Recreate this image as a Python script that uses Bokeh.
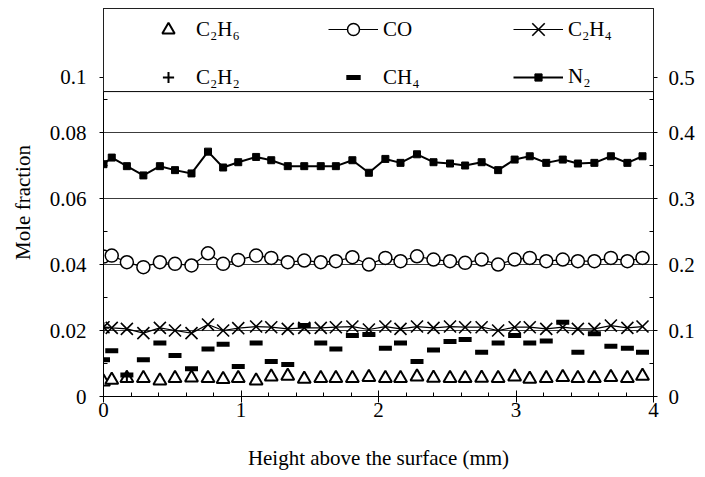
from bokeh.plotting import figure
from bokeh.models import (LinearAxis, Range1d, FixedTicker, Legend, LegendItem,
                          BoxAnnotation)
from bokeh.embed import file_html
from bokeh.resources import INLINE

# Sampling heights above the surface (mm)
height_mm = [0.00, 0.06, 0.17, 0.29, 0.41, 0.52, 0.64, 0.76, 0.87, 0.98,
             1.11, 1.22, 1.34, 1.46, 1.58, 1.69, 1.81, 1.93, 2.05, 2.16,
             2.28, 2.40, 2.52, 2.63, 2.75, 2.87, 2.99, 3.10, 3.22, 3.34,
             3.45, 3.57, 3.69, 3.81, 3.92]

# Mole fractions, left axis
c2h6 = [0.0045, 0.0050, 0.0055, 0.0055, 0.0048, 0.0055, 0.0057, 0.0055, 0.0052, 0.0055,
        0.0048, 0.0060, 0.0062, 0.0053, 0.0055, 0.0055, 0.0055, 0.0058, 0.0055, 0.0055,
        0.0060, 0.0056, 0.0055, 0.0055, 0.0056, 0.0055, 0.0060, 0.0053, 0.0055, 0.0058,
        0.0055, 0.0055, 0.0058, 0.0055, 0.0062]
co = [0.0424, 0.0427, 0.0407, 0.0392, 0.0407, 0.0402, 0.0397, 0.0434, 0.0402, 0.0414,
      0.0427, 0.0420, 0.0407, 0.0412, 0.0407, 0.0410, 0.0422, 0.0400, 0.0420, 0.0410,
      0.0425, 0.0415, 0.0410, 0.0405, 0.0415, 0.0400, 0.0415, 0.0420, 0.0410, 0.0415,
      0.0410, 0.0410, 0.0420, 0.0410, 0.0420]
c2h4 = [0.0210, 0.0208, 0.0205, 0.0192, 0.0208, 0.0200, 0.0192, 0.0218, 0.0200, 0.0207,
        0.0212, 0.0210, 0.0205, 0.0208, 0.0208, 0.0210, 0.0212, 0.0203, 0.0212, 0.0205,
        0.0212, 0.0208, 0.0212, 0.0210, 0.0210, 0.0200, 0.0210, 0.0210, 0.0205, 0.0210,
        0.0205, 0.0205, 0.0215, 0.0208, 0.0212]
ch4 = [0.0111, 0.0139, 0.0065, 0.0111, 0.0162, 0.0124, 0.0084, 0.0144, 0.0158, 0.0091,
       0.0162, 0.0106, 0.0097, 0.0215, 0.0162, 0.0144, 0.0185, 0.0188, 0.0146, 0.0162,
       0.0106, 0.0141, 0.0167, 0.0173, 0.0134, 0.0162, 0.0185, 0.0162, 0.0168, 0.0225,
       0.0134, 0.0190, 0.0152, 0.0146, 0.0134]
c2h2_height = [0.00, 0.17]
c2h2 = [0.0208, 0.0062]

# N2 mole fraction, right axis
n2 = [0.352, 0.362, 0.349, 0.335, 0.349, 0.343, 0.338, 0.371, 0.347, 0.355,
      0.363, 0.358, 0.349, 0.349, 0.349, 0.349, 0.358, 0.339, 0.360, 0.354,
      0.367, 0.355, 0.353, 0.350, 0.355, 0.343, 0.359, 0.364, 0.354, 0.359,
      0.353, 0.354, 0.364, 0.354, 0.364]

left_ticks = [0, 0.02, 0.04, 0.06, 0.08]
left_labels = ["0", "0.02", "0.04", "0.06", "0.08"]
right_ticks = [0, 0.1, 0.2, 0.3, 0.4]
right_labels = ["0", "0.1", "0.2", "0.3", "0.4"]
x_ticks = [0, 1, 2, 3, 4]

FONT = "Liberation Serif"
FS = "21px"

# The legend band squeezes the top of the scale; its top label sits inside it
TOP_LEFT, TOP_RIGHT = 0.0967, 0.4833
Y_MAX = 0.11758
LEGEND_FLOOR = 0.0924

p = figure(width=705, height=477, x_range=Range1d(0, 4), y_range=Range1d(0, Y_MAX),
           output_backend="svg", toolbar_location=None,
           min_border_left=103, min_border_right=52, min_border_top=8,
           min_border_bottom=81, background_fill_color="white",
           border_fill_color="white")
p.outline_line_color = "black"
p.outline_line_width = 1
p.outline_line_alpha = 1
p.extra_y_ranges = {"right": Range1d(0, Y_MAX * 5)}

# grid
p.xgrid.visible = False
p.ygrid.ticker = FixedTicker(ticks=left_ticks[1:])
p.ygrid.grid_line_color = "#3c3c3c"
p.ygrid.grid_line_width = 1


def style_axis(ax):
    ax.axis_line_color = "black"
    ax.major_tick_line_color = "black"
    ax.minor_tick_line_color = "black"
    ax.major_label_text_font = FONT
    ax.major_label_text_font_size = FS
    ax.major_label_text_color = "black"
    ax.axis_label_text_font = FONT
    ax.axis_label_text_font_size = FS
    ax.axis_label_text_font_style = "normal"
    ax.axis_label_text_color = "black"


# bottom axis
xa = p.xaxis[0]
style_axis(xa)
xa.ticker = FixedTicker(ticks=x_ticks, minor_ticks=[i * 0.2 for i in range(21)])
xa.major_label_overrides = {t: str(t) for t in x_ticks}
xa.major_tick_in = 6
xa.major_tick_out = 6
xa.minor_tick_in = 4
xa.minor_tick_out = 0
xa.major_label_standoff = 0
xa.axis_label = "Height above the surface (mm)"
xa.axis_label_standoff = 26

# left axis
ya = p.yaxis[0]
style_axis(ya)
ya.ticker = FixedTicker(ticks=left_ticks + [TOP_LEFT],
                        minor_ticks=[0.01, 0.03, 0.05, 0.07, 0.09])
ya.major_label_overrides = dict(zip(left_ticks + [TOP_LEFT], left_labels + ["0.1"]))
ya.major_tick_in = 0
ya.major_tick_out = 4
ya.minor_tick_in = 4
ya.minor_tick_out = 0
ya.major_label_standoff = 13
ya.axis_label = "Mole fraction"
ya.axis_label_standoff = 12

# right axis
ra = LinearAxis(y_range_name="right")
style_axis(ra)
ra.ticker = FixedTicker(ticks=right_ticks + [TOP_RIGHT],
                        minor_ticks=[0.05, 0.15, 0.25, 0.35, 0.45])
ra.major_label_overrides = dict(zip(right_ticks + [TOP_RIGHT], right_labels + ["0.5"]))
ra.major_tick_in = 0
ra.major_tick_out = 4
ra.minor_tick_in = 4
ra.minor_tick_out = 0
ra.major_label_standoff = 11
p.add_layout(ra, "right")

# series
r_c2h6 = p.scatter(height_mm, c2h6, marker="triangle", size=13, fill_color="white",
                   line_color="black", line_width=2)
r_co_line = p.line(height_mm, co, line_color="black", line_width=1.2)
r_co = p.scatter(height_mm, co, marker="circle", size=13, fill_color="white",
                 line_color="black", line_width=1.5)
r_c2h4_line = p.line(height_mm, c2h4, line_color="black", line_width=1.2)
r_c2h4 = p.scatter(height_mm, c2h4, marker="x", size=17, line_color="black",
                   line_width=1.6)
r_c2h2 = p.scatter(c2h2_height, c2h2, marker="cross", size=11, line_color="black",
                   line_width=2)
r_ch4 = p.scatter(height_mm, ch4, marker="dash", size=13, line_color="black",
                  line_width=5)
r_n2_line = p.line(height_mm, n2, y_range_name="right", line_color="black",
                   line_width=2)
r_n2 = p.scatter(height_mm, n2, y_range_name="right", marker="square", size=7,
                 fill_color="black", line_color="black")

# legend band across the top of the frame
p.add_layout(BoxAnnotation(bottom=LEGEND_FLOOR, fill_color="white", fill_alpha=1,
                           line_color="black", line_alpha=1, line_width=1))

# one legend per entry: (label, renderers, x offset, row, label standoff, glyph height)
# legend marker size follows the glyph box, so each entry gets its own box height
entries = [
    ("C₂H₆", [r_c2h6], 40, 0, 3, 31),
    ("C₂H₂", [r_c2h2], 40, 1, 3, 28),
    ("CO", [r_co_line, r_co], 225, 0, 5, 30),
    ("CH₄", [r_ch4], 225, 1, 5, 36),
    ("C₂H₄", [r_c2h4_line, r_c2h4], 410, 0, 5, 44),
    ("N₂", [r_n2_line, r_n2], 410, 1, 5, 18),
]
FRAME_H = 388
ROW_CENTRE = [21, 69]   # px below the frame top
for label, rs, x0, row, standoff, gh in entries:
    h = max(gh, 24)
    y0 = FRAME_H - ROW_CENTRE[row] - h / 2
    leg = Legend(items=[LegendItem(label=label, renderers=rs)],
                 location=(x0, y0), orientation="vertical",
                 glyph_width=50, glyph_height=gh, label_height=24,
                 label_standoff=standoff, padding=0, margin=0,
                 border_line_color=None, background_fill_alpha=0,
                 label_text_font=FONT, label_text_font_size=FS,
                 label_text_color="black")
    p.add_layout(leg, "center")

open("out.html", "w").write(file_html(p, INLINE))
